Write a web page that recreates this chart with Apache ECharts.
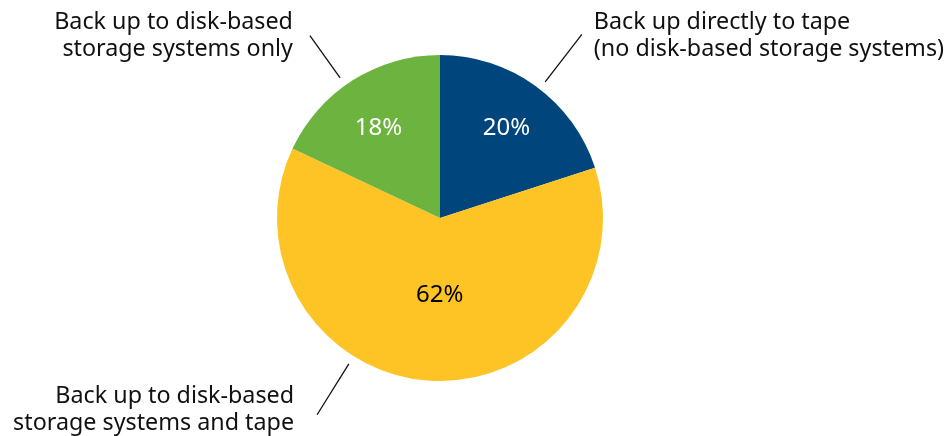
<!DOCTYPE html>
<html>
<head>
<meta charset="utf-8">
<script src="https://cdn.jsdelivr.net/npm/echarts@6/dist/echarts.min.js"></script>
<style>
  html, body { margin: 0; padding: 0; background: #fff; }
  #chart { width: 946px; height: 436px; }
</style>
</head>
<body>
<div id="chart"></div>
<script>
// 数据
const categories = [
  'Back up directly to tape\n(no disk-based storage systems)',
  'Back up to disk-based\nstorage systems and tape',
  'Back up to disk-based\nstorage systems only'
]
const shares = [20, 62, 18]
const sliceColors = ['#00457C', '#FEC325', '#6DB33F']
const valueLabelColors = ['#fff', '#000', '#fff']

const chart = echarts.init(document.getElementById('chart'))

const center = [440, 218]
const R = 163
const font = '"Noto Sans", sans-serif'
const ghost = { color: 'transparent', borderWidth: 0 }

const pieData = (extra) => categories.map((name, i) => Object.assign({ name, value: shares[i] }, extra(i)))

const valueLabel = {
  show: true,
  position: 'inside',
  formatter: '{c}%',
  fontSize: 24,
  fontFamily: font
}

// 说明文字: 每个扇区一个透明的辅助饼, 用 startAngle 微调引线角度
const nameSeries = (idx, startAngle, length, distance, offsetY) => ({
  type: 'pie',
  center,
  radius: [0, 172],
  startAngle,
  silent: true,
  avoidLabelOverlap: false,
  itemStyle: ghost,
  label: {
    show: true,
    position: 'outside',
    formatter: '{b}',
    fontSize: 23.3,
    lineHeight: 27,
    fontFamily: font,
    color: '#111',
    edgeDistance: 0,
    distanceToLabelLine: distance,
    offset: [0, offsetY]
  },
  labelLine: { show: true, length, length2: 0, lineStyle: { color: '#111', width: 1.3 } },
  data: pieData(i => ({
    label: { show: i === idx },
    labelLine: { show: i === idx }
  }))
})

const option = {
  animation: false,
  series: [
    // 饼图本体, 62% 标签在中间半径
    {
      type: 'pie',
      center,
      radius: [0, R],
      startAngle: 90,
      avoidLabelOverlap: false,
      emphasis: { disabled: true },
      label: valueLabel,
      labelLine: { show: false },
      data: pieData(i => ({
        itemStyle: { color: sliceColors[i], borderWidth: 0 },
        label: { show: i === 1, color: valueLabelColors[i], offset: [5, -7] }
      }))
    },
    // 两个小扇区的百分比, 更靠外
    {
      type: 'pie',
      center,
      radius: [57, R],
      startAngle: 90,
      silent: true,
      avoidLabelOverlap: false,
      itemStyle: ghost,
      label: valueLabel,
      labelLine: { show: false },
      data: pieData(i => ({
        label: { show: i !== 1, color: valueLabelColors[i], offset: i === 0 ? [0, 2] : [-1, 6] }
      }))
    },
    nameSeries(0, 88.3, 60, 12, 1),
    nameSeries(2, 93.1, 52, 17, 0),
    nameSeries(1, 61.6, 60, 23, -5)
  ]
}

chart.setOption(option)
</script>
</body>
</html>
